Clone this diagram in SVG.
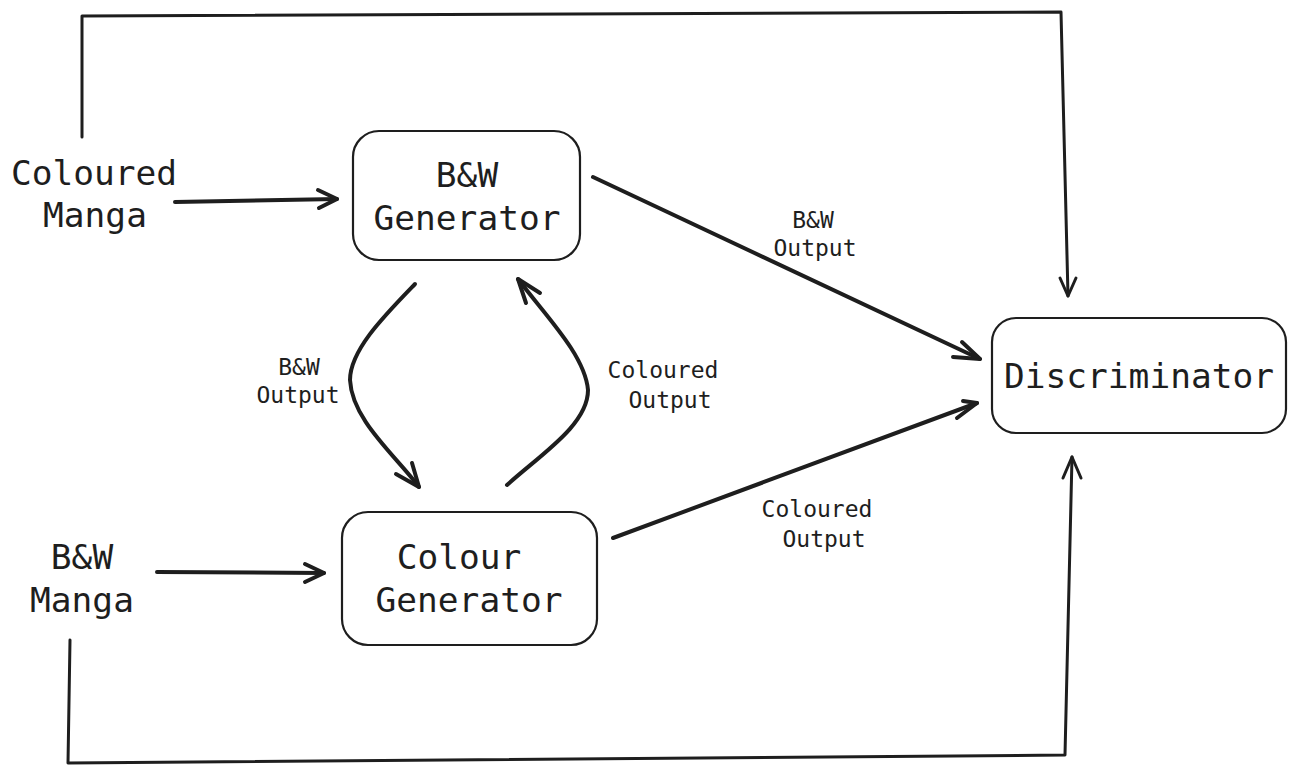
<svg xmlns="http://www.w3.org/2000/svg" width="1295" height="773" viewBox="0 0 1295 773">
<style>
.bg{fill:#ffffff}
.box{fill:none;stroke:#1e1e1e;stroke-width:2.2}
.big{font-family:"DejaVu Sans Mono","Liberation Mono",monospace;font-size:34.5px;fill:#1e1e1e;text-anchor:middle}
.lbl{font-family:"DejaVu Sans Mono","Liberation Mono",monospace;font-size:23px;fill:#1e1e1e;text-anchor:middle}
.ar{fill:none;stroke:#1e1e1e;stroke-width:4;stroke-linecap:round;stroke-linejoin:round}
.ln{fill:none;stroke:#1e1e1e;stroke-width:3;stroke-linecap:round;stroke-linejoin:round}
</style>
<rect class="bg" x="0" y="0" width="1295" height="773"/>
<g id="connectors">
  <!-- top loop: Coloured Manga -> Discriminator -->
  <path class="ln" d="M82,137 L82,16 L1061,12 L1068,296"/>
  <path class="ln" d="M1060,278 L1068,296 L1076,278"/>
  <!-- bottom loop: B&W Manga -> Discriminator -->
  <path class="ln" d="M70,640 L68,763 L1065,755 L1072,457"/>
  <path class="ln" d="M1063,478 L1072,457 L1081,478"/>
  <!-- Coloured Manga -> B&W Generator -->
  <path class="ar" d="M175,202 L337,199"/>
  <path class="ar" d="M318,190 L337,199 L319,208"/>
  <!-- B&W Manga -> Colour Generator -->
  <path class="ar" d="M157,572 L324,573"/>
  <path class="ar" d="M305,564 L324,573 L305,582"/>
  <!-- B&W Generator -> Colour Generator (curved) -->
  <path class="ar" d="M415,284 C385,315 350,350 350,380 C352,420 395,455 419,487"/>
  <path class="ar" d="M396,474 L419,487 L412,463"/>
  <!-- Colour Generator -> B&W Generator (curved) -->
  <path class="ar" d="M507,485 C540,455 588,425 588,390 C585,355 545,315 518,279"/>
  <path class="ar" d="M540,293 L518,279 L526,303"/>
  <!-- B&W Generator -> Discriminator -->
  <path class="ar" d="M593,177 L980,359"/>
  <path class="ar" d="M962,342 L980,359 L953,357"/>
  <!-- Colour Generator -> Discriminator -->
  <path class="ar" d="M613,538 L977,403"/>
  <path class="ar" d="M963,401 L977,403 L957,418"/>
  <!-- edge labels -->
  <text class="lbl" x="813" y="228">B&amp;W</text>
  <text class="lbl" x="815" y="256">Output</text>
  <text class="lbl" x="299" y="375">B&amp;W</text>
  <text class="lbl" x="298" y="403">Output</text>
  <text class="lbl" x="663" y="378">Coloured</text>
  <text class="lbl" x="670" y="408">Output</text>
  <text class="lbl" x="817" y="517">Coloured</text>
  <text class="lbl" x="824" y="547">Output</text>
</g>
<g id="coloured-manga">
  <text class="big" x="94" y="185">Coloured</text>
  <text class="big" x="95" y="227">Manga</text>
</g>
<g id="bw-manga">
  <text class="big" x="82" y="569">B&amp;W</text>
  <text class="big" x="82" y="612">Manga</text>
</g>
<g id="bw-generator">
  <rect class="box" x="353" y="131" width="227" height="129" rx="26"/>
  <text class="big" x="467" y="187">B&amp;W</text>
  <text class="big" x="467" y="230">Generator</text>
</g>
<g id="colour-generator">
  <rect class="box" x="342" y="512" width="255" height="133" rx="26"/>
  <text class="big" x="459" y="569">Colour</text>
  <text class="big" x="469" y="612">Generator</text>
</g>
<g id="discriminator">
  <rect class="box" x="992" y="318" width="294" height="115" rx="24"/>
  <text class="big" x="1139" y="388">Discriminator</text>
</g>
</svg>
